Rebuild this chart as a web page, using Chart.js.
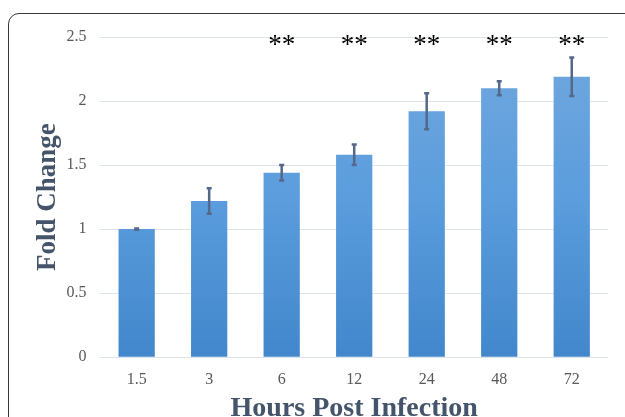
<!DOCTYPE html>
<html>
<head>
<meta charset="utf-8">
<script src="https://cdn.jsdelivr.net/npm/chart.js@4"></script>
<style>
  html, body { margin: 0; padding: 0; background: #fff; overflow: hidden; }
  #wrap { position: relative; width: 625px; height: 426px; }
  #frame {
    position: absolute; left: 8px; top: 13px; width: 700px; height: 500px;
    border: 1.5px solid #3a3a3a; border-radius: 11px; box-sizing: border-box;
  }
  canvas { position: absolute; left: 0; top: 0; }
</style>
</head>
<body>
<div id="wrap">
  <div id="frame"></div>
  <canvas id="myChart" width="625" height="426"></canvas>
</div>
<script>
const hours = ['1.5', '3', '6', '12', '24', '48', '72'];
const foldChange = [1.0, 1.22, 1.44, 1.58, 1.92, 2.10, 2.19];
const errBar = [0.005, 0.10, 0.06, 0.08, 0.14, 0.055, 0.15];
const stars = ['', '', '**', '**', '**', '**', '**'];

const serif = "'Liberation Serif', 'Times New Roman', serif";

// error bars + significance stars
const extras = {
  id: 'extras',
  afterDatasetsDraw(chart) {
    const c = chart.ctx;
    const y = chart.scales.y;
    const meta = chart.getDatasetMeta(0);
    c.save();
    c.strokeStyle = '#56688a';
    c.lineWidth = 2.5;
    meta.data.forEach((bar, i) => {
      const top = y.getPixelForValue(foldChange[i] + errBar[i]);
      const bot = y.getPixelForValue(foldChange[i] - errBar[i]);
      c.beginPath();
      c.moveTo(bar.x, top);
      c.lineTo(bar.x, bot);
      c.moveTo(bar.x - 2.5, top);
      c.lineTo(bar.x + 2.5, top);
      c.moveTo(bar.x - 2.5, bot);
      c.lineTo(bar.x + 2.5, bot);
      c.stroke();
    });
    c.fillStyle = '#000';
    c.font = "27px " + serif;
    c.textAlign = 'center';
    c.textBaseline = 'middle';
    meta.data.forEach((bar, i) => {
      if (stars[i]) c.fillText(stars[i], bar.x, y.getPixelForValue(2.43));
    });
    c.restore();
  }
};

const ctx = document.getElementById('myChart').getContext('2d');

new Chart(ctx, {
  type: 'bar',
  data: {
    labels: hours,
    datasets: [{
      label: 'Fold Change',
      data: foldChange,
      backgroundColor: (context) => {
        const area = context.chart.chartArea;
        if (!area) return '#5a9bdc';
        const g = context.chart.ctx.createLinearGradient(0, area.top, 0, area.bottom);
        g.addColorStop(0, '#72a8de');
        g.addColorStop(0.5, '#5b9ddd');
        g.addColorStop(1, '#4287cc');
        return g;
      },
      barPercentage: 0.5,
      categoryPercentage: 1.0
    }]
  },
  options: {
    responsive: false,
    animation: false,
    layout: { padding: { left: 32, right: 17, top: 37, bottom: 0 } },
    plugins: {
      legend: { display: false },
      tooltip: { enabled: false }
    },
    scales: {
      x: {
        grid: { display: false },
        border: { display: false },
        ticks: { color: '#595959', font: { family: serif, size: 16 }, padding: 5 },
        title: {
          display: true,
          text: 'Hours Post Infection',
          color: '#44546a',
          font: { family: serif, size: 28, weight: 'bold' },
          padding: { top: -2, bottom: 0 }
        }
      },
      y: {
        min: 0,
        max: 2.5,
        ticks: {
          stepSize: 0.5,
          color: '#595959',
          font: { family: serif, size: 16 },
          padding: 14,
          callback: (v) => String(v)
        },
        grid: { color: '#dde3ea', drawTicks: false },
        border: { display: false },
        title: {
          display: true,
          text: 'Fold Change',
          color: '#44546a',
          font: { family: serif, size: 27, weight: 'bold' },
          padding: { top: 0, bottom: -12 }
        }
      }
    }
  },
  plugins: [extras]
});
</script>
</body>
</html>
